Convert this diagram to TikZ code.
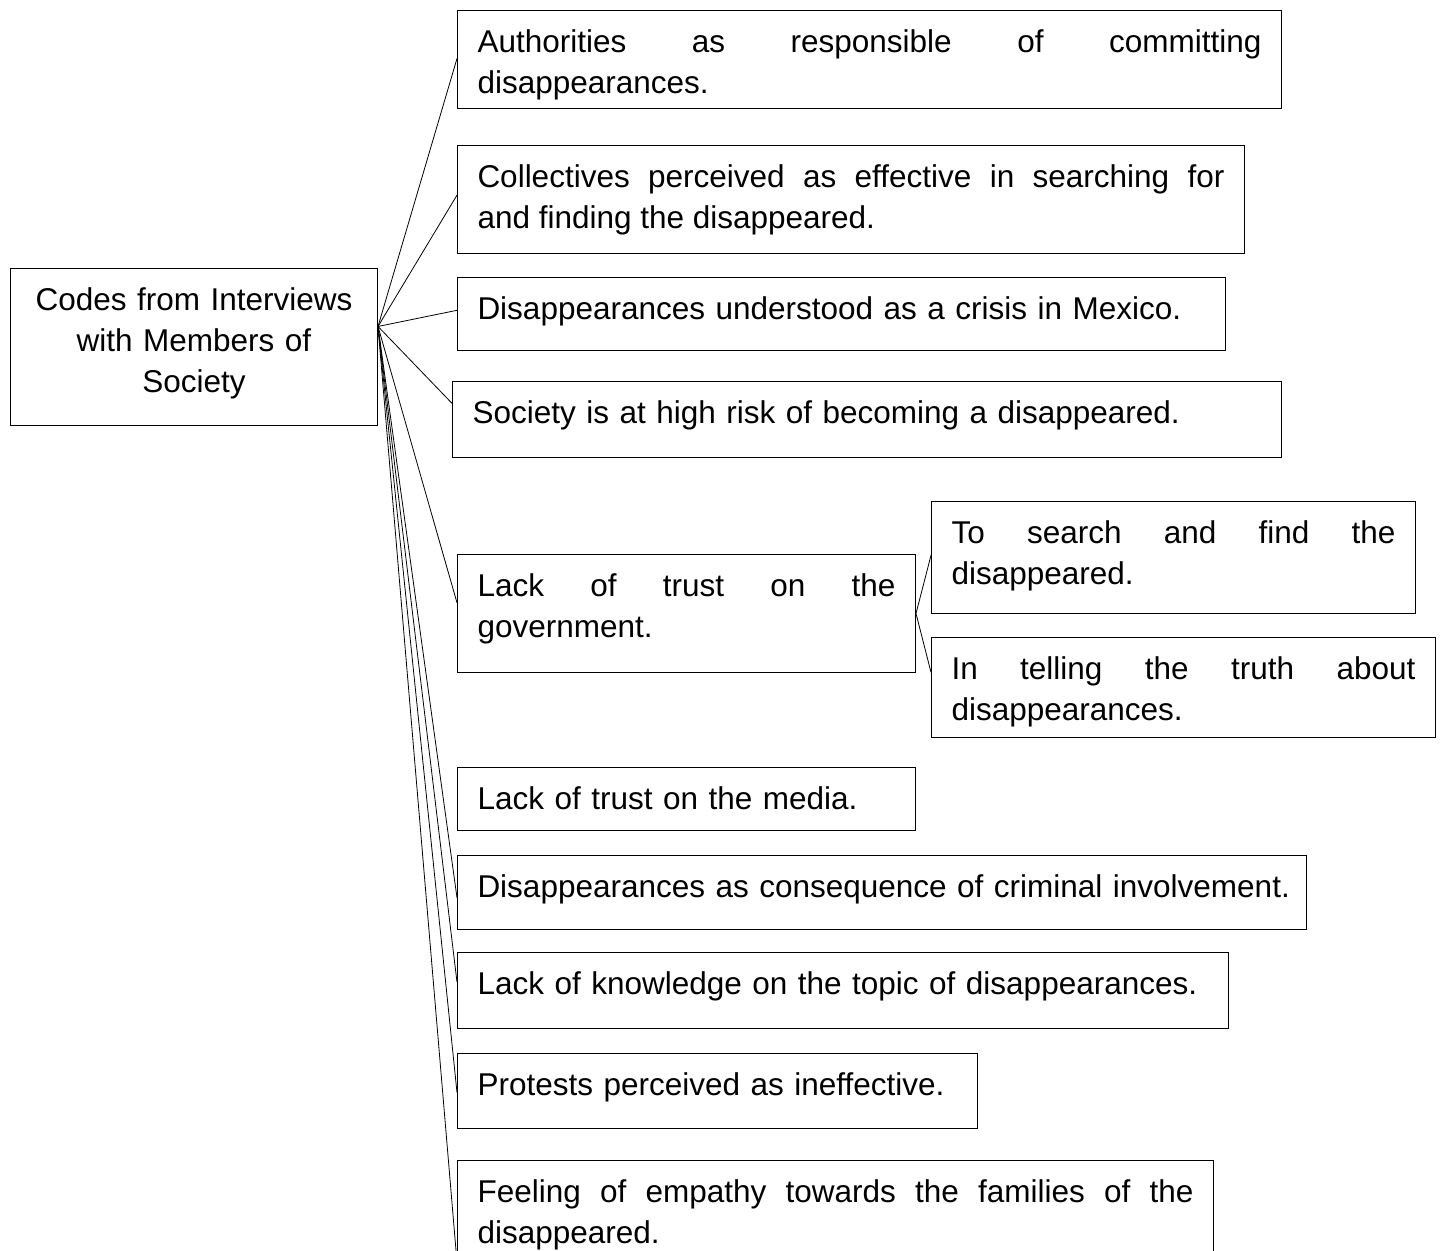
\documentclass[tikz,border=0pt]{standalone}
\usepackage{fontspec}
\setmainfont{Liberation Sans}
\usetikzlibrary{calc}
\hyphenpenalty=10000
\exhyphenpenalty=10000
\begin{document}
\begin{tikzpicture}[x=1pt,y=-1pt]
\tikzstyle{code}=[draw,anchor=north west,line width=1pt,inner xsep=20pt,inner ysep=14pt,text height=28pt,font=\fontsize{31.5}{41}\selectfont,align=justify]
\tikzstyle{link}=[line width=0.8pt]
\clip (0,0) rectangle (1445,1250);
\node[code,align=center,text width=327pt,text depth=101pt](root) at (10,268) {Codes from Interviews\\ with Members of\\ Society};
\node[code,text width=784pt,text depth=42pt](c1) at (457,10) {Authorities as responsible of committing\linebreak disappearances.};
\node[code,text width=747pt,text depth=52pt](c2) at (457,145) {Collectives perceived as effective in searching for\linebreak and finding the disappeared.};
\node[code,align=left,text width=728pt,text depth=17pt](c3) at (457,277) {Disappearances understood as a crisis in Mexico.};
\node[code,align=left,text width=789pt,text depth=20pt](c4) at (452,381) {Society is at high risk of becoming a disappeared.};
\node[code,text width=418pt,text depth=62pt](c5) at (457,554) {Lack of trust on the\linebreak government.};
\node[code,text width=444pt,text depth=56pt](s1) at (931,501) {To search and find the\linebreak disappeared.};
\node[code,text width=464pt,text depth=44pt](s2) at (931,637) {In telling the truth about\linebreak disappearances.};
\node[code,align=left,text width=418pt,text depth=7pt](c6) at (457,767) {Lack of trust on the media.};
\node[code,align=left,text width=809pt,text depth=18pt](c7) at (457,855) {\mbox{Disappearances as consequence of criminal involvement.}};
\node[code,align=left,text width=731pt,text depth=20pt](c8) at (457,952) {Lack of knowledge on the topic of disappearances.};
\node[code,align=left,text width=480pt,text depth=19pt](c9) at (457,1053) {Protests perceived as ineffective.};
\node[code,text width=716pt,text depth=74pt](c10) at (457,1160) {Feeling of empathy towards the families of the\linebreak disappeared.};
\coordinate (hub) at ($(root.north east)!0.37!(root.south east)$);
\foreach \n/\f in {c1/0.49,c2/0.46,c3/0.45,c4/0.29,c5/0.41,c7/0.57,c8/0.39,c9/0.52,c10/0.78}
  \draw[link] (hub) -- ($(\n.north west)!\f!(\n.south west)$);
\draw[link] (c5.east) -- ($(s1.north west)!0.48!(s1.south west)$);
\draw[link] (c5.east) -- ($(s2.north west)!0.35!(s2.south west)$);
\end{tikzpicture}
\end{document}
